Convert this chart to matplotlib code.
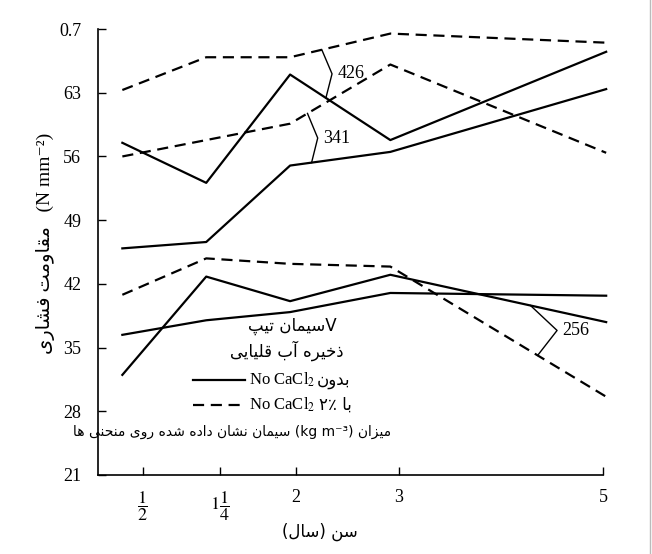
import numpy as np
import matplotlib.pyplot as plt
from matplotlib.lines import Line2D

# --- data ---
age_ticks = [0.5, 1.25, 2, 3, 5]
age_tick_labels = [r'$\dfrac{1}{2}$', r'$1\dfrac{1}{4}$', '2', '3', '5']
age_pts = [0.3, 1.12, 1.94, 2.92, 5.03]

strength_ticks = [21, 28, 35, 42, 49, 56, 63, 70]
strength_tick_labels = ['21', '28', '35', '42', '49', '56', '63', '0.7']

dash_426 = [63.3, 66.9, 66.9, 69.5, 68.5]
solid_426 = [57.5, 53.1, 65.0, 57.8, 67.5]
dash_341 = [56.0, 57.8, 59.6, 66.1, 56.4]
solid_341 = [45.9, 46.6, 55.0, 56.5, 63.4]
dash_256 = [40.8, 44.8, 44.2, 43.9, 29.6]
solid_256a = [32.0, 42.8, 40.1, 43.0, 37.8]
solid_256b = [36.4, 38.0, 38.9, 41.0, 40.7]

# --- small persian shaper (no bidi lib available) ---
DUAL = {
    'ب': '\uFE8F\uFE90\uFE91\uFE92', 'پ': '\uFB56\uFB57\uFB58\uFB59',
    'ت': '\uFE95\uFE96\uFE97\uFE98', 'خ': '\uFEA5\uFEA6\uFEA7\uFEA8',
    'ح': '\uFEA1\uFEA2\uFEA3\uFEA4', 'س': '\uFEB1\uFEB2\uFEB3\uFEB4',
    'ش': '\uFEB5\uFEB6\uFEB7\uFEB8', 'ف': '\uFED1\uFED2\uFED3\uFED4',
    'ق': '\uFED5\uFED6\uFED7\uFED8', 'ل': '\uFEDD\uFEDE\uFEDF\uFEE0',
    'م': '\uFEE1\uFEE2\uFEE3\uFEE4', 'ن': '\uFEE5\uFEE6\uFEE7\uFEE8',
    'ه': '\uFEE9\uFEEA\uFEEB\uFEEC', 'ی': '\uFBFC\uFBFD\uFBFE\uFBFF',
}
RIGHT = {
    'ا': '\uFE8D\uFE8E', 'آ': '\uFE81\uFE82', 'د': '\uFEA9\uFEAA',
    'ذ': '\uFEAB\uFEAC', 'ر': '\uFEAD\uFEAE', 'ز': '\uFEAF\uFEB0',
    'و': '\uFEED\uFEEE',
}


def fa(text):
    out = []
    for i, ch in enumerate(text):
        prev = text[i - 1] if i > 0 else ''
        nxt = text[i + 1] if i + 1 < len(text) else ''
        jp = prev in DUAL
        if ch in DUAL:
            jn = nxt in DUAL or nxt in RIGHT
            f = DUAL[ch]
            out.append(f[3] if jp and jn else f[1] if jp else f[2] if jn else f[0])
        elif ch in RIGHT:
            out.append(RIGHT[ch][1] if jp else RIGHT[ch][0])
        else:
            out.append(ch)
    s = ''.join(out)[::-1]
    return s.translate(str.maketrans('()', ')('))


plt.rcParams['font.family'] = ['Liberation Serif', 'DejaVu Sans']
plt.rcParams['mathtext.fontset'] = 'stix'
FA = ['DejaVu Sans']

fig = plt.figure(figsize=(6.52, 5.54), dpi=100)
ax = fig.add_axes([0.150, 0.1426, 0.775, 0.805])

lw = 1.6
dash = (0, (5, 3))
ax.plot(age_pts, dash_426, color='black', lw=lw, ls=dash, clip_on=False)
ax.plot(age_pts, solid_426, color='black', lw=lw, clip_on=False)
ax.plot(age_pts, dash_341, color='black', lw=lw, ls=dash, clip_on=False)
ax.plot(age_pts, solid_341, color='black', lw=lw, clip_on=False)
ax.plot(age_pts, dash_256, color='black', lw=lw, ls=dash, clip_on=False)
ax.plot(age_pts, solid_256a, color='black', lw=lw, clip_on=False)
ax.plot(age_pts, solid_256b, color='black', lw=lw, clip_on=False)

# brackets naming the cement content of each pair of curves
brackets = [
    ('426', dash_426, solid_426, 2.25, 2.29, 2.35),
    ('341', dash_341, solid_341, 2.11, 2.15, 2.21),
    ('256', solid_256a, dash_256, 4.29, 4.36, 4.55),
]
for name, top, bot, xt, xb, xa in brackets:
    yt = np.interp(xt, age_pts, top)
    yb = np.interp(xb, age_pts, bot)
    ya = (yt + yb) / 2
    ax.plot([xt, xa, xb], [yt, ya, yb], color='black', lw=1.0)
    ax.text(xa + 0.05, ya, name, fontsize=13, va='center', ha='left')

ax.set_xlim(0.06, 5.0)
ax.set_ylim(21, 70)
ax.set_xticks(age_ticks)
ax.set_xticklabels(age_tick_labels, fontsize=13)
ax.set_yticks(strength_ticks)
ax.set_yticklabels(strength_tick_labels, fontsize=13)
ax.tick_params(axis='both', direction='in', length=6, width=1, color='black')
ax.tick_params(axis='x', pad=10)
ax.tick_params(axis='y', pad=12)
for s in ['top', 'right']:
    ax.spines[s].set_visible(False)
for s in ['left', 'bottom']:
    ax.spines[s].set_linewidth(1.2)

ax.text(-0.103, 0.52, fa('مقاومت فشاری') + '   (N mm⁻²)', transform=ax.transAxes,
        rotation=90, ha='center', va='center', fontsize=14)
ax.text(0.44, -0.128, fa('سن (سال)'), transform=ax.transAxes, ha='center',
        va='center', fontsize=12, family=FA)

# key block inside the plot
ax.text(0.385, 0.334, fa('سیمان تیپ') + 'V', transform=ax.transAxes,
        ha='center', va='center', fontsize=12, family=FA)
ax.text(0.375, 0.278, fa('ذخیره آب قلیایی'), transform=ax.transAxes,
        ha='center', va='center', fontsize=12, family=FA)
ax.add_line(Line2D([0.188, 0.291], [0.213, 0.213], transform=ax.transAxes,
                   color='black', lw=lw))
ax.add_line(Line2D([0.188, 0.291], [0.157, 0.157], transform=ax.transAxes,
                   color='black', lw=lw, ls=dash))
ax.text(0.30, 0.213, r'No CaCl$_2$', transform=ax.transAxes, ha='left',
        va='center', fontsize=12)
ax.text(0.30, 0.157, r'No CaCl$_2$', transform=ax.transAxes, ha='left',
        va='center', fontsize=12)
ax.text(0.50, 0.213, fa('بدون'), transform=ax.transAxes, ha='right',
        va='center', fontsize=12, family=FA)
ax.text(0.437, 0.157, '۲٪ ' + fa('با'), transform=ax.transAxes, ha='left',
        va='center', fontsize=12, family=FA)
ax.text(0.58, 0.097, fa('سیمان نشان داده شده روی منحنی ها') + ' (kg m⁻³) ' + fa('میزان'),
        transform=ax.transAxes, ha='right', va='center', fontsize=10, family=FA)

fig.add_artist(Line2D([0.997, 0.997], [0, 1], color='#bbbbbb', lw=1))
fig.savefig('out.png', dpi=100)
